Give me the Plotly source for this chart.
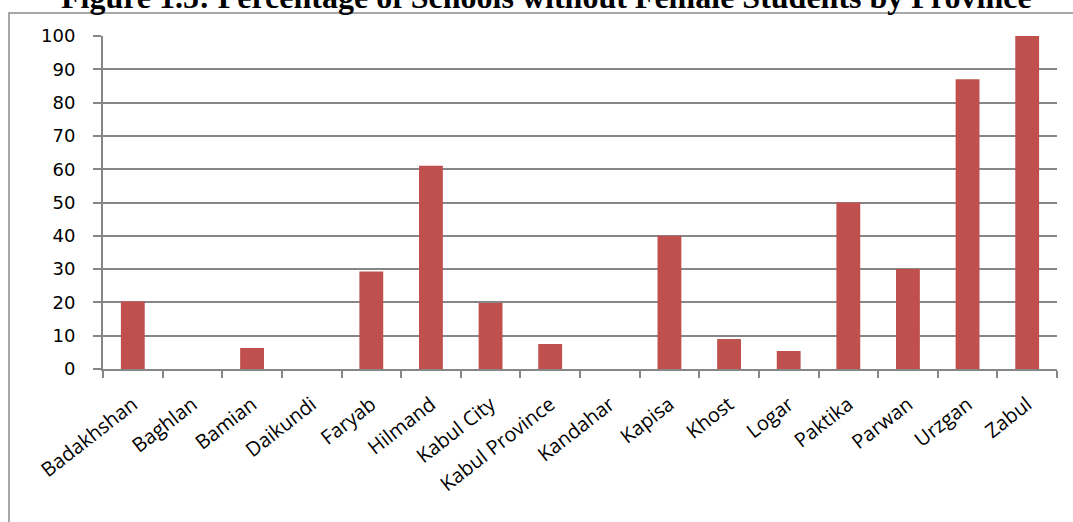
import plotly.graph_objects as go

# Provinces and share of schools with no female students (%)
provinces = ["Badakhshan", "Baghlan", "Bamian", "Daikundi", "Faryab", "Hilmand",
             "Kabul City", "Kabul Province", "Kandahar", "Kapisa", "Khost", "Logar",
             "Paktika", "Parwan", "Urzgan", "Zabul"]
pct_no_female = [20.3, 0, 6.3, 0, 29.3, 61, 19.8, 7.5, 0, 40, 9, 5.4, 50, 30, 87, 100]
y_ticks = list(range(0, 101, 10))

W, H = 1073, 522
ML, MR, MT, MB = 103, 16, 36, 153
PW, PH = W - ML - MR, H - MT - MB


def px_x(px):
    return (px - ML) / PW


def px_y(py):
    return (H - MB - py) / PH


AXIS_GREY = "#868686"
BAR_RED = "#C0504D"

fig = go.Figure(
    go.Bar(x=provinces, y=pct_no_female, marker=dict(color=BAR_RED, line=dict(width=0)))
)

fig.update_layout(
    width=W, height=H,
    margin=dict(l=ML, r=MR, t=MT, b=MB, pad=0),
    paper_bgcolor="white", plot_bgcolor="white",
    bargap=0.6, showlegend=False,
)

fig.update_xaxes(
    type="category",
    showline=True, linecolor=AXIS_GREY, linewidth=2,
    ticks="outside", tickson="boundaries", ticklen=7, tickwidth=2, tickcolor=AXIS_GREY,
    tickangle=-38, showgrid=False,
    tickfont=dict(family="Open Sans", size=20, color="black"),
    ticklabelstandoff=14,
)
fig.update_yaxes(
    range=[0, 100], tickvals=y_ticks, ticktext=[str(v) for v in y_ticks],
    showline=True, linecolor=AXIS_GREY, linewidth=2,
    ticks="outside", ticklen=8, tickwidth=1.5, tickcolor=AXIS_GREY,
    showgrid=True, gridcolor=AXIS_GREY, gridwidth=1.5, zeroline=False,
    tickfont=dict(family="DejaVu Sans", size=18, color="black"),
    ticklabelstandoff=14,
)

# Chart frame (continues past the right and bottom edges)
fig.add_shape(type="rect", xref="paper", yref="paper",
              x0=px_x(9), x1=px_x(W + 20), y0=px_y(H + 20), y1=px_y(13),
              line=dict(color="#8c8c8c", width=1.5), fillcolor="rgba(0,0,0,0)", layer="below")

fig.add_annotation(
    text="<b>Figure 1.5: Percentage of Schools without Female Students by Province</b>",
    xref="paper", yref="paper", x=px_x(546), y=px_y(-3),
    xanchor="center", yanchor="middle", showarrow=False,
    font=dict(family="Liberation Serif", size=32, color="black"),
)

fig.write_html("out.html")
